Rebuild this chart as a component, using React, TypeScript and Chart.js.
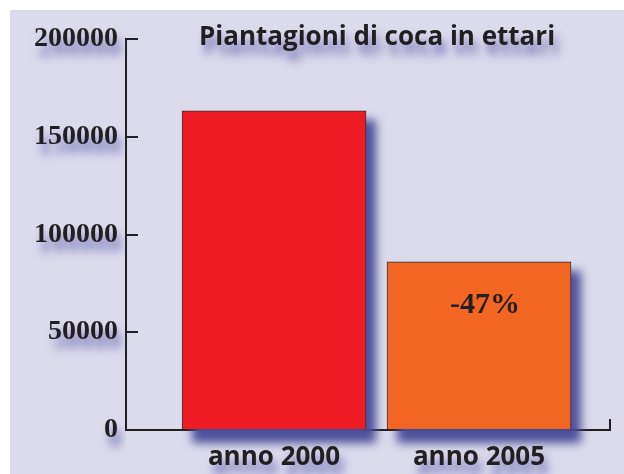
import React, { useEffect, useRef } from "react";
import { Chart, registerables } from "chart.js";

Chart.register(...registerables);

const categories = ["anno 2000", "anno 2005"];
const hectares = [163300, 86000];
const barColors = ["#ed1c24", "#f26522"];
const yTicks = [0, 50000, 100000, 150000, 200000];
const titleText = "Piantagioni di coca in ettari";
const changeLabel = "-47%";

const X_MIN = -0.722;
const X_MAX = 1.639;
const INK = "#231f20";
const CLEAR = "rgba(0,0,0,0)";

const decorPlugin = {
  id: "decor",
  beforeDraw(chart: any) {
    const ctx = chart.ctx;
    ctx.save();
    ctx.fillStyle = "#ffffff";
    ctx.fillRect(0, 0, chart.width, chart.height);
    ctx.fillStyle = "#dcdbec";
    ctx.fillRect(10, 10, chart.width - 10, chart.height - 10);
    ctx.restore();
  },
  beforeDatasetsDraw(chart: any) {
    const ctx = chart.ctx;
    const meta = chart.getDatasetMeta(0);
    ctx.save();
    ctx.filter = "blur(5px)";
    ctx.fillStyle = "rgba(72,76,152,0.97)";
    meta.data.forEach((bar: any) => {
      const w = bar.width;
      ctx.fillRect(bar.x - w / 2 + 10, bar.y + 9, w, bar.base - bar.y + 5);
    });
    ctx.restore();
  },
  afterDatasetsDraw(chart: any) {
    const ctx = chart.ctx;
    const bar = chart.getDatasetMeta(0).data[1];
    ctx.save();
    ctx.font = "bold 30px 'Liberation Serif'";
    ctx.fillStyle = INK;
    ctx.textAlign = "center";
    ctx.textBaseline = "middle";
    ctx.fillText(changeLabel, bar.x + 6, bar.y + 43);
    ctx.restore();
    ctx.shadowColor = "rgba(85,88,170,0.75)";
    ctx.shadowBlur = 8;
    ctx.shadowOffsetX = 4;
    ctx.shadowOffsetY = 10;
  },
  afterDraw(chart: any) {
    const ctx = chart.ctx;
    const area = chart.chartArea;
    ctx.save();
    ctx.shadowColor = "rgba(85,88,170,0.75)";
    ctx.shadowBlur = 8;
    ctx.shadowOffsetX = 4;
    ctx.shadowOffsetY = 10;
    ctx.font = "bold 26px 'Open Sans'";
    ctx.fillStyle = INK;
    ctx.textAlign = "center";
    ctx.textBaseline = "alphabetic";
    ctx.fillText(titleText, (area.left + area.right) / 2 + 9, area.top + 6);
    ctx.restore();
    ctx.shadowColor = CLEAR;
    ctx.shadowBlur = 0;
    ctx.shadowOffsetX = 0;
    ctx.shadowOffsetY = 0;
  },
};

export default function App() {
  const ref = useRef<HTMLCanvasElement | null>(null);
  useEffect(() => {
    if (!ref.current) return;
    const chart = new Chart(ref.current, {
      type: "bar",
      data: {
        datasets: [
          {
            data: hectares.map((v, i) => ({ x: i, y: v })),
            backgroundColor: barColors,
            borderColor: "#333333",
            borderWidth: 1,
            barThickness: 184,
          },
        ],
      },
      options: {
        responsive: false,
        animation: false,
        layout: { padding: { top: 39, right: 14, left: 0, bottom: 0 } },
        plugins: { legend: { display: false }, tooltip: { enabled: false }, title: { display: false } },
        scales: {
          x: {
            type: "linear",
            offset: false,
            min: X_MIN,
            max: X_MAX,
            afterBuildTicks: (s: any) => {
              s.ticks = [{ value: 0 }, { value: 1 }, { value: X_MAX }];
            },
            afterFit: (s: any) => {
              s.height = 44;
            },
            ticks: {
              z: 1,
              autoSkip: false,
              maxRotation: 0,
              padding: 12,
              color: INK,
              font: { family: "Open Sans", weight: "bold", size: 26 },
              callback: (v: any) => (v === 0 || v === 1 ? categories[v] : ""),
            },
            grid: {
              offset: false,
              drawOnChartArea: true,
              drawTicks: false,
              lineWidth: 2,
              color: (c: any) => (c.tick && c.tick.value === X_MAX ? INK : CLEAR),
            },
            border: {
              color: INK,
              width: 2,
              dash: (c: any) => {
                const a = c.chart.chartArea;
                const h = a ? a.bottom - a.top : 391;
                return [0, h - 11, 11, 3000];
              },
            },
          },
          y: {
            min: 0,
            max: 200000,
            afterBuildTicks: (s: any) => {
              s.ticks = yTicks.map((v) => ({ value: v }));
            },
            afterFit: (s: any) => {
              s.width = 126;
            },
            ticks: {
              z: 1,
              padding: 8,
              color: INK,
              font: { family: "Liberation Serif", weight: "bold", size: 28 },
              callback: (v: any) => String(v),
            },
            grid: {
              drawOnChartArea: true,
              drawTicks: false,
              lineWidth: 2,
              color: INK,
            },
            border: { color: INK, width: 2, dash: [11, 3000] },
          },
        },
      } as any,
      plugins: [decorPlugin],
    });
    return () => chart.destroy();
  }, []);
  return (
    <canvas
      ref={ref}
      width={624}
      height={474}
      style={{ position: "absolute", left: 0, top: 0, display: "block" }}
    />
  );
}
